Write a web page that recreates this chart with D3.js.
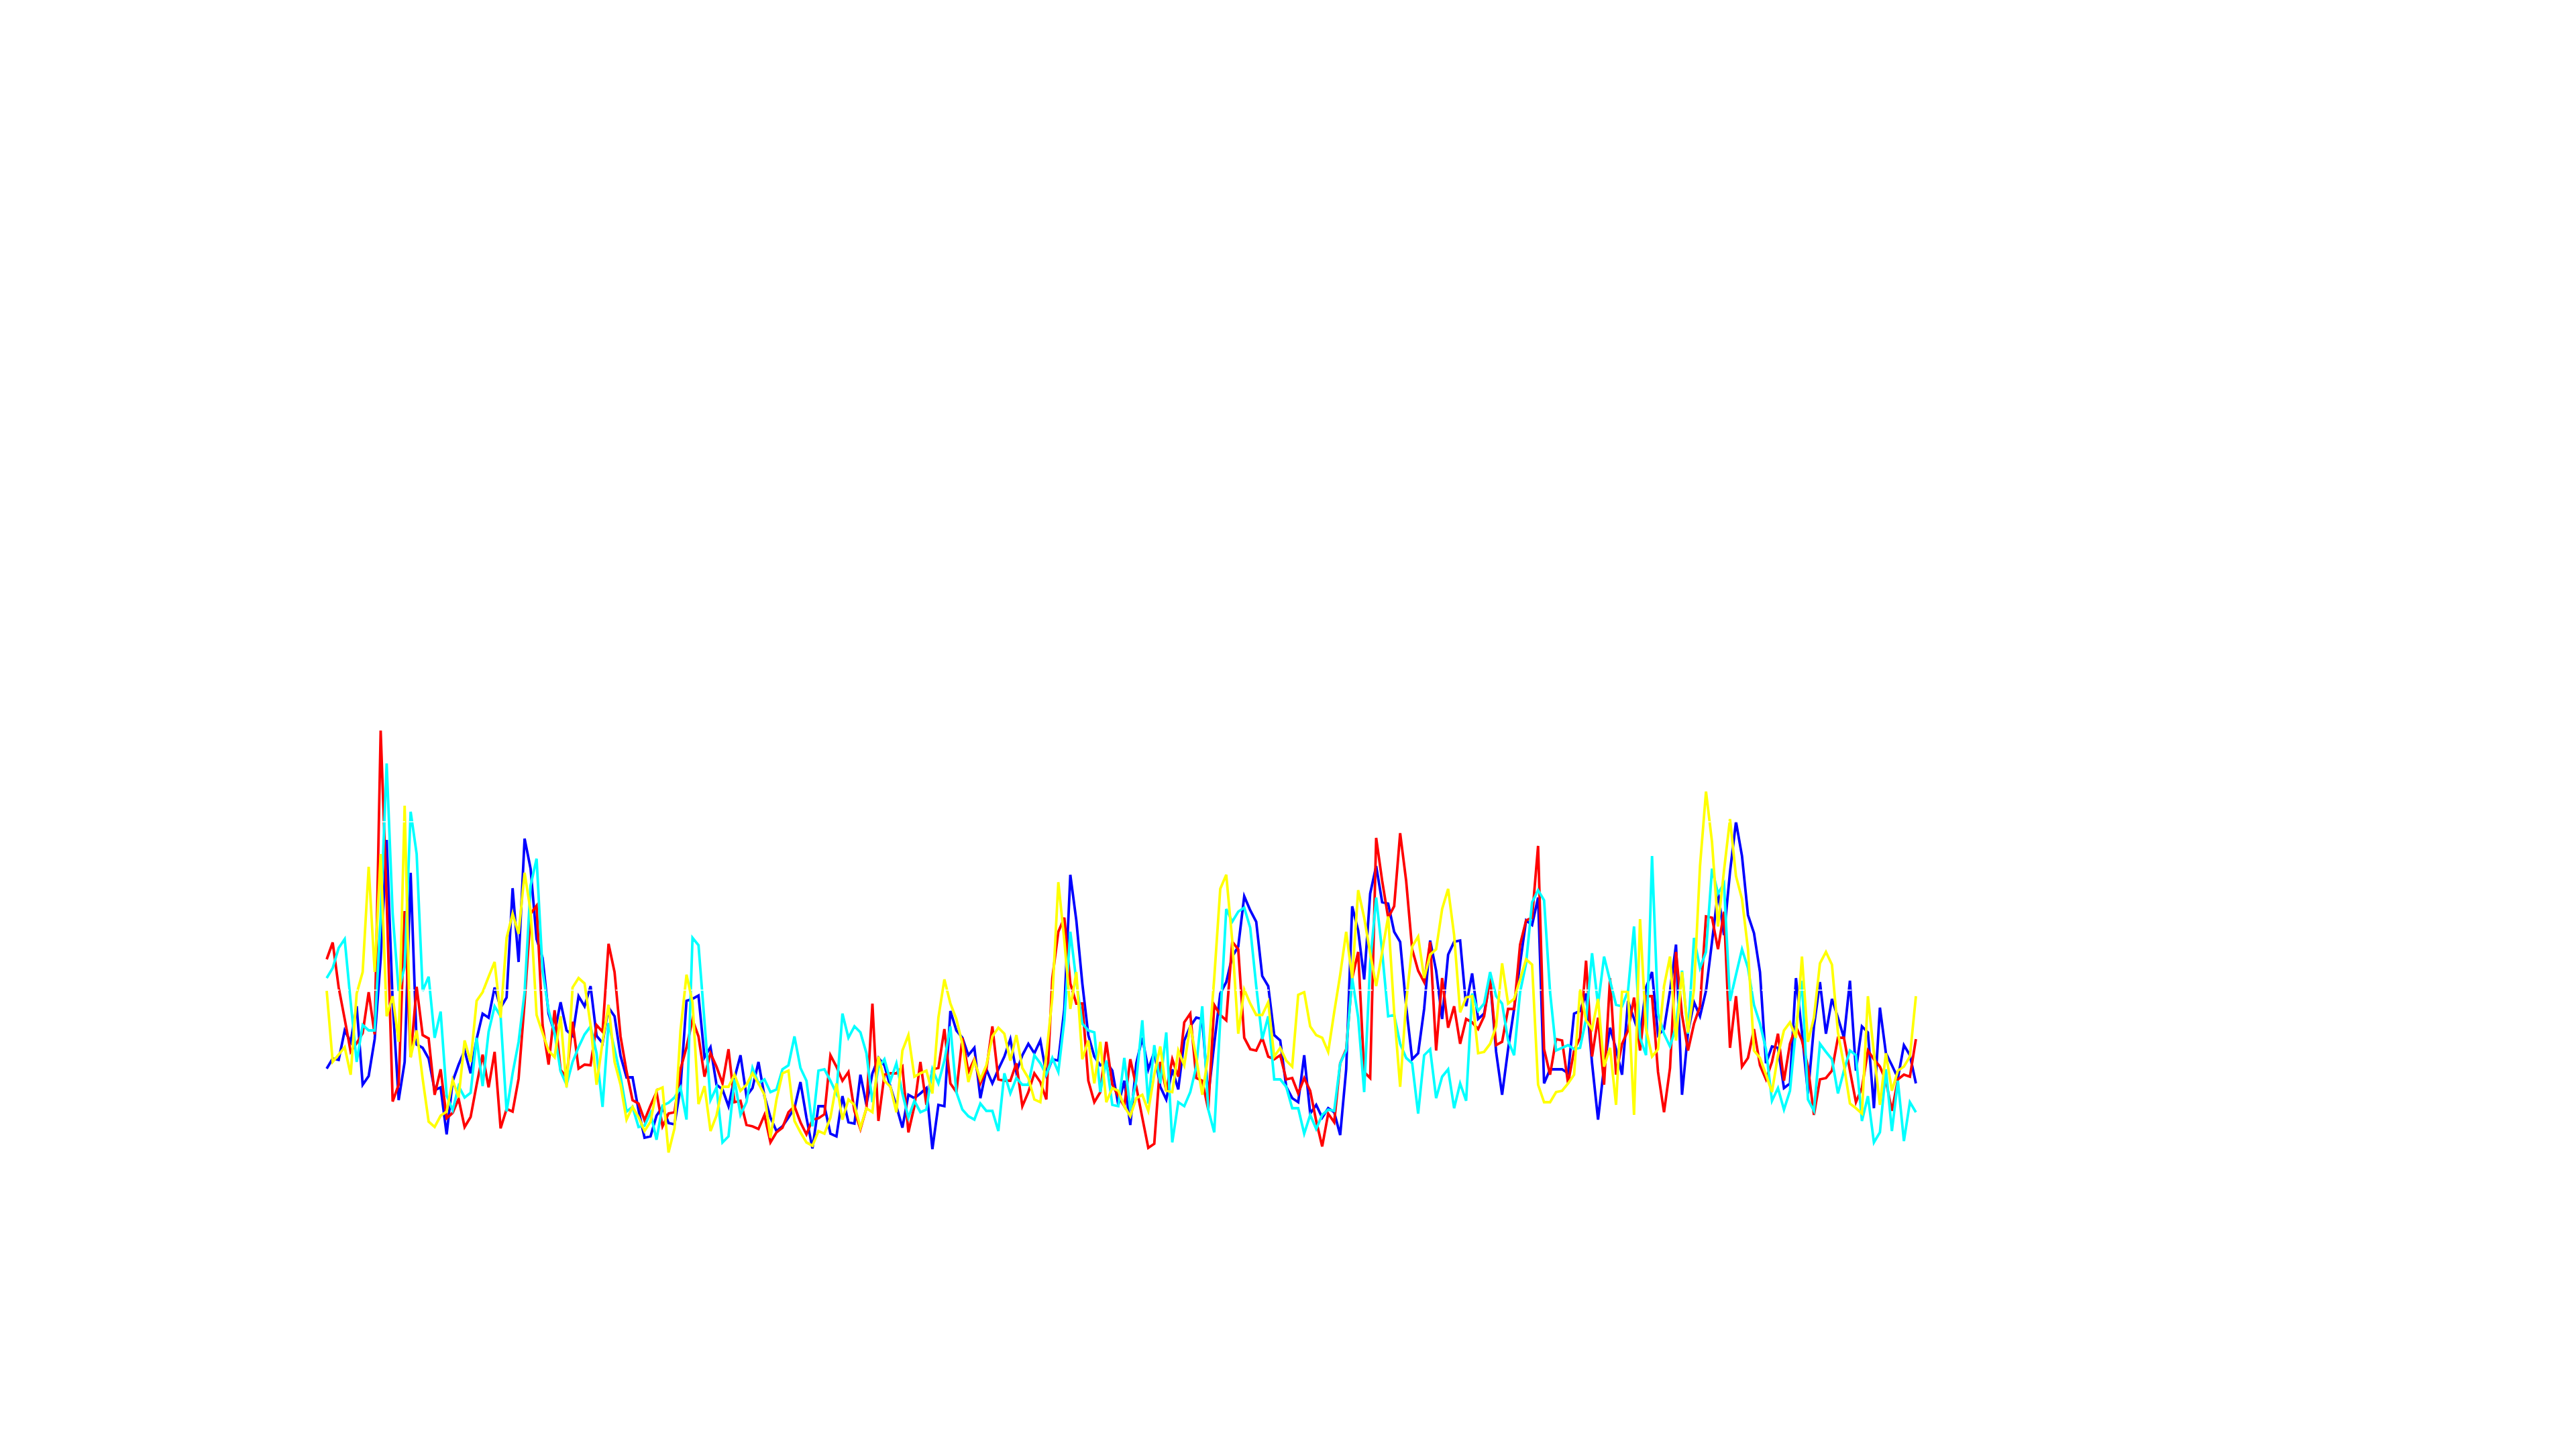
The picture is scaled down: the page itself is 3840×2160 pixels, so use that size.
<!DOCTYPE html>
<html>
<head>
<meta charset="utf-8">
<script src="https://cdn.jsdelivr.net/npm/d3@7"></script>
<style>
html,body{margin:0;padding:0;background:#ffffff;}
svg{display:block;}
</style>
</head>
<body>
<script>
const red = [300,325,258,211,162,175,190,251,188,641,389,88,113,372,154,259,187,182,98,136,
63,71,92,50,65,113,158,109,162,48,77,73,122,236,368,380,202,143,224,135,
124,207,137,143,142,202,192,323,281,185,133,90,85,60,82,102,51,70,72,136,
169,210,185,125,160,140,115,166,87,89,53,51,47,68,27,42,49,72,81,57,
39,61,63,69,157,140,119,132,74,47,78,234,59,128,130,130,140,42,81,147,
83,136,138,196,115,102,183,132,151,115,136,200,121,119,119,145,81,102,130,117,
91,272,341,362,264,234,234,119,87,102,177,113,96,81,151,110,64,19,25,147,
104,151,125,206,219,123,119,76,232,217,209,326,315,183,166,164,183,155,151,157,
121,123,100,123,104,59,21,70,57,145,166,272,311,132,123,481,417,362,379,488,
417,315,283,266,326,164,272,198,230,174,211,206,196,215,272,172,177,226,226,322,
358,362,469,166,128,181,179,115,164,183,298,155,213,113,272,128,174,194,243,164,
245,245,132,72,138,311,217,164,204,230,364,362,315,371,168,245,140,153,196,142,
121,147,189,119,174,200,179,140,68,121,123,134,183,183,134,87,108,164,151,140,
119,74,121,128,125,181];

const blue = [137,152,150,194,177,230,113,126,181,300,478,236,90,147,429,173,168,152,105,109,
39,118,143,164,130,181,219,213,258,228,243,406,296,480,435,330,302,219,190,236,
194,186,245,230,260,186,175,228,215,156,124,124,75,34,36,67,80,56,54,109,
238,241,246,154,169,113,106,81,123,157,96,108,147,96,64,44,51,64,78,117,
64,18,81,81,40,36,96,57,55,128,83,130,153,142,110,81,49,98,93,100,
108,17,83,81,223,194,183,157,168,93,136,115,136,155,181,132,157,174,160,179,
128,151,149,226,426,358,264,187,155,142,147,134,83,119,53,145,183,136,162,110,
91,136,106,179,200,213,211,96,174,249,266,304,319,394,373,356,275,260,187,179,
110,93,87,157,70,83,64,78,72,38,136,379,343,270,398,439,385,383,341,326,
230,151,160,226,328,283,211,307,326,328,230,279,211,219,270,162,98,166,226,294,
358,351,392,115,136,136,136,130,219,223,249,145,61,140,198,166,128,238,211,185,
258,281,187,196,253,322,98,191,236,215,253,326,400,336,430,505,454,366,339,281,
145,170,168,108,115,272,191,100,200,266,189,241,213,183,268,134,200,191,78,228,
160,142,123,172,157,115];

const cyan = [272,287,317,330,236,147,202,194,194,363,592,368,253,289,520,457,253,274,183,222,
97,75,111,94,101,183,111,192,230,215,73,130,177,251,410,450,283,224,190,133,
113,147,169,188,200,160,80,205,166,126,73,80,50,52,71,31,82,86,94,109,
61,332,321,207,90,109,27,36,121,68,87,138,115,121,102,106,136,142,185,138,
119,51,134,136,119,100,219,183,200,191,160,87,138,151,119,145,100,64,89,72,
76,136,115,149,200,102,76,66,61,85,74,74,44,130,100,123,113,113,157,145,
128,153,132,209,341,268,204,194,191,102,149,83,81,153,76,119,209,85,172,115,
191,27,87,81,102,140,230,76,42,209,375,356,371,377,347,260,181,215,121,121,
110,78,78,40,68,47,68,76,74,145,164,272,213,102,294,392,311,215,217,174,
153,145,70,157,166,93,125,136,78,115,89,249,223,234,281,245,234,179,157,251,
294,385,403,388,251,164,168,172,166,168,211,309,232,304,268,232,230,253,349,183,
157,454,219,189,170,200,283,189,332,287,311,435,398,413,238,277,315,287,232,204,
166,89,108,76,104,196,268,91,74,174,162,151,100,134,164,157,59,96,27,42,
136,44,119,29,87,72];

const yellow = [253,147,158,169,128,249,281,438,281,457,215,245,177,529,154,194,122,58,50,67,
73,120,94,179,147,238,251,274,296,213,332,368,338,429,372,217,190,164,154,215,
109,258,272,264,202,113,177,232,147,113,61,80,65,44,58,105,109,12,48,194,
277,236,84,111,44,67,110,110,128,104,113,130,115,98,34,91,130,134,59,42,
27,22,44,40,64,115,61,91,83,49,78,72,155,119,110,72,164,187,125,130,
134,100,213,270,234,211,174,117,149,121,142,185,198,189,149,187,138,123,91,87,
157,243,415,328,226,281,151,179,115,177,87,108,104,81,66,93,98,74,128,170,
104,102,164,142,202,153,98,157,272,405,426,328,189,255,234,217,217,236,155,168,
149,140,247,251,200,187,183,162,221,277,341,272,403,362,309,260,311,364,221,110,
236,319,334,272,307,315,375,405,336,221,243,245,160,162,174,200,294,234,241,270,
300,292,113,87,87,102,104,115,128,255,209,196,241,140,168,83,253,251,68,360,
196,155,166,260,304,179,281,191,255,439,550,475,349,432,509,424,390,315,164,153,
128,102,157,194,206,183,304,177,213,294,311,292,191,142,85,78,70,245,160,83,
160,104,134,140,155,245];

const seriesNames = ["blue", "red", "cyan", "yellow"];
const seriesColors = ["#0000ff", "#ff0000", "#00ffff", "#ffff00"];
const gridValues = [254, 505];

const W = 3840, H = 2160;
const svg = d3.select("body").append("svg").attr("width", W).attr("height", H);
svg.append("rect").attr("width", W).attr("height", H).attr("fill", "#ffffff");

const n = red.length;
const x = d3.scaleLinear().domain([0, n - 1]).range([487, 2856]);
const y = d3.scaleLinear().domain([0, 660]).range([1730, 1070]);

const dataBySeries = {blue: blue, red: red, cyan: cyan, yellow: yellow};
const line = d3.line().x((d, i) => x(i)).y(d => y(d));

const g = svg.append("g");
seriesNames.forEach((name, k) => {
  g.append("path")
    .datum(dataBySeries[name])
    .attr("fill", "none")
    .attr("stroke", seriesColors[k])
    .attr("stroke-width", 3.8)
    .attr("stroke-linejoin", "miter")
    .attr("d", line);
});

svg.append("g").selectAll("line").data(gridValues).enter().append("line")
  .attr("x1", 470).attr("x2", 2870)
  .attr("y1", d => y(d)).attr("y2", d => y(d))
  .attr("stroke", "#ffffff")
  .attr("stroke-width", 1.5)
  .attr("stroke-dasharray", "8,6");
</script>
</body>
</html>
